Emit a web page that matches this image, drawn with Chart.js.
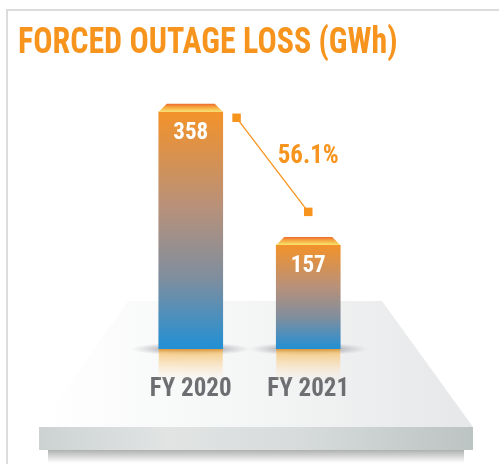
<!DOCTYPE html>
<html>
<head>
<meta charset="utf-8">
<script src="https://cdn.jsdelivr.net/npm/chart.js@4"></script>
<style>
  html, body { margin: 0; padding: 0; background: #fff; }
  #wrap { position: relative; width: 499px; height: 464px; overflow: hidden; }
  #frame { position: absolute; left: 6px; top: 9px; right: -4px; bottom: -4px; border-left: 2px solid #dcdcdc; border-top: 2px solid #dcdcdc; }
  #title { position: absolute; left: 18px; top: 23px; font: bold 36px/36px 'Roboto Condensed', 'Liberation Sans', Arial, sans-serif; color: #F7941D; white-space: nowrap; transform-origin: 0 0; }
  canvas { position: absolute; left: 0; top: 0; }
</style>
</head>
<body>
<div id="wrap">
  <div id="frame"></div>
  <canvas id="chart" width="499" height="464"></canvas>
  <div id="title">FORCED OUTAGE LOSS (GWh)</div>
</div>
<script>
// data
const categories = ['FY 2020', 'FY 2021'];
const lossGWh = [358, 157];
// connector squares (x in category-index units, y in GWh units)
const connectorX = [0.39, 1.0];
const connectorY = [349, 207];
const changeLabel = '56.1%';
const yMax = 400;

const ORANGE = '#F7941D';
const FONT = "'Roboto Condensed', 'Liberation Sans', Arial, sans-serif";

// squeeze the title to the width it has in the source
const title = document.getElementById('title');
title.style.transform = 'scaleX(' + (380 / title.offsetWidth).toFixed(3) + ')';

// floor / platform drawn behind everything
const stagePlugin = {
  id: 'stage',
  beforeDraw(chart) {
    const ctx = chart.ctx;
    ctx.save();
    let g = ctx.createLinearGradient(39, 0, 473, 0);
    g.addColorStop(0, '#ffffff');
    g.addColorStop(0.5, '#f4f5f5');
    g.addColorStop(1, '#e6e7e8');
    ctx.fillStyle = g;
    ctx.beginPath();
    ctx.moveTo(128, 301); ctx.lineTo(382, 301); ctx.lineTo(473, 427); ctx.lineTo(39, 427);
    ctx.closePath();
    ctx.fill();
    // shadow under slab
    g = ctx.createLinearGradient(0, 450, 0, 463);
    g.addColorStop(0, 'rgba(110,112,112,0.55)');
    g.addColorStop(1, 'rgba(110,112,112,0)');
    ctx.fillStyle = g;
    ctx.fillRect(48, 450, 416, 13);
    // front slab
    g = ctx.createLinearGradient(39, 0, 473, 0);
    g.addColorStop(0, '#ccd2d2');
    g.addColorStop(0.3, '#e2e4e4');
    g.addColorStop(0.6, '#d7dbdb');
    g.addColorStop(1, '#bcc3c3');
    ctx.fillStyle = g;
    ctx.fillRect(39, 427, 434, 23);
    ctx.restore();
  },
  beforeDatasetsDraw(chart) {
    const ctx = chart.ctx;
    const base = chart.chartArea.bottom;
    chart.getDatasetMeta(0).data.forEach((bar) => {
      const w = bar.width;
      ctx.save();
      // soft shadow ellipse at bar base
      ctx.translate(bar.x, base);
      ctx.scale(1, 0.11);
      const rg = ctx.createRadialGradient(0, 0, 0, 0, 0, 60);
      rg.addColorStop(0, 'rgba(80,80,90,0.75)');
      rg.addColorStop(0.6, 'rgba(120,120,130,0.35)');
      rg.addColorStop(1, 'rgba(150,150,160,0)');
      ctx.fillStyle = rg;
      ctx.beginPath(); ctx.arc(0, 0, 60, 0, Math.PI * 2); ctx.fill();
      ctx.restore();
      // reflection
      ctx.save();
      const g = ctx.createLinearGradient(0, base, 0, base + 32);
      g.addColorStop(0, 'rgba(220,150,55,0.95)');
      g.addColorStop(0.12, 'rgba(246,196,115,0.8)');
      g.addColorStop(0.5, 'rgba(250,218,170,0.6)');
      g.addColorStop(1, 'rgba(252,235,215,0)');
      ctx.fillStyle = g;
      ctx.fillRect(bar.x - w / 2, base, w, 32);
      ctx.restore();
    });
  },
  afterDatasetsDraw(chart) {
    const ctx = chart.ctx;
    const bars = chart.getDatasetMeta(0).data;
    bars.forEach((bar, i) => {
      const w = bar.width, l = bar.x - w / 2, r = bar.x + w / 2, t = bar.y;
      ctx.save();
      const g = ctx.createLinearGradient(0, t - 8, 0, t);
      g.addColorStop(0, '#ec6a2f');
      g.addColorStop(0.35, '#f59e3a');
      g.addColorStop(1, '#f8e56c');
      ctx.fillStyle = g;
      ctx.beginPath();
      ctx.moveTo(l + 8, t - 8); ctx.lineTo(r - 8, t - 8); ctx.lineTo(r, t); ctx.lineTo(l, t);
      ctx.closePath(); ctx.fill();
      ctx.fillStyle = '#ffffff';
      ctx.font = 'bold 23px ' + FONT;
      ctx.textAlign = 'center';
      ctx.textBaseline = 'alphabetic';
      ctx.fillText(String(lossGWh[i]), bar.x, t + 27);
      ctx.restore();
    });
    // change label beside the connector
    const pts = chart.getDatasetMeta(1).data;
    if (pts.length === 2) {
      ctx.save();
      ctx.fillStyle = ORANGE;
      ctx.font = 'bold 25px ' + FONT;
      ctx.textAlign = 'center';
      ctx.textBaseline = 'alphabetic';
      ctx.fillText(changeLabel, pts[1].x, (pts[0].y + pts[1].y) / 2 - 2);
      ctx.restore();
    }
  }
};

function barGradient(c) {
  const chart = c.chart;
  const a = chart.chartArea;
  if (!a || c.type !== 'data') return '#F3922A';
  const top = chart.scales.y.getPixelForValue(c.raw);
  const g = chart.ctx.createLinearGradient(0, top, 0, a.bottom);
  g.addColorStop(0, '#F3922A');
  g.addColorStop(0.4, '#B8917A');
  g.addColorStop(0.7, '#7F8E9E');
  g.addColorStop(1, '#2290D5');
  return g;
}

new Chart(document.getElementById('chart'), {
  type: 'bar',
  data: {
    labels: categories,
    datasets: [
      // grouped:false keeps the bar centred even though the connector uses a second x axis
      { data: lossGWh, backgroundColor: barGradient, borderWidth: 0, grouped: false, barThickness: 64, maxBarThickness: 64, order: 2 },
      {
        type: 'line', xAxisID: 'x2',
        data: connectorX.map((x, i) => ({ x, y: connectorY[i] })),
        borderColor: ORANGE, borderWidth: 1.3,
        pointStyle: 'rect', pointRadius: 6, pointBorderWidth: 0,
        pointBackgroundColor: ORANGE, order: 1
      }
    ]
  },
  options: {
    responsive: false,
    animation: false,
    layout: { padding: { left: 132, right: 132, top: 84, bottom: 33 } },
    plugins: { legend: { display: false }, tooltip: { enabled: false } },
    scales: {
      x: {
        grid: { display: false, drawTicks: false },
        border: { display: false },
        ticks: { color: '#6D6E71', padding: 26, font: { family: FONT, weight: 'bold', size: 25 } }
      },
      x2: { type: 'linear', display: false, offset: false, min: -0.5, max: 1.5 },
      y: { display: false, stacked: false, min: 0, max: yMax }
    }
  },
  plugins: [stagePlugin]
});
</script>
</body>
</html>
